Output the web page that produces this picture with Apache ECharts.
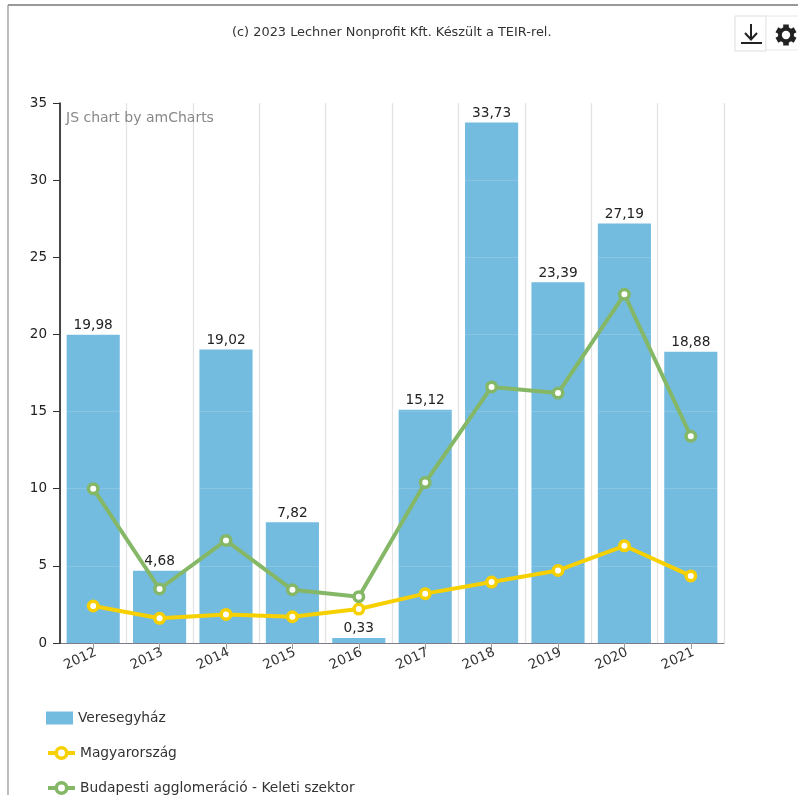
<!DOCTYPE html>
<html><head><meta charset="utf-8">
<style>html,body{margin:0;padding:0;background:#fff;overflow:hidden}#c{width:798px;height:795px}</style>
<script src="https://cdn.jsdelivr.net/npm/echarts@6/dist/echarts.min.js"></script>
</head><body><div id="c"></div>
<script>
const years = ['2012','2013','2014','2015','2016','2017','2018','2019','2020','2021'];
const veresegyhaz = [19.98,4.68,19.02,7.82,0.33,15.12,33.73,23.39,27.19,18.88];
const magyarorszag = [2.4,1.6,1.85,1.7,2.2,3.2,3.95,4.7,6.3,4.35];
const keleti = [10,3.5,6.65,3.45,3.0,10.4,16.6,16.2,22.6,13.4];
const titleText = '(c) 2023 Lechner Nonprofit Kft. Készült a TEIR-rel.';
const FONT = 'DejaVu Sans';
const YELLOW = '#f6d000', GREEN = '#85b866';
const chart = echarts.init(document.getElementById('c'), null, {renderer:'canvas'});
const lineSeries = (name, data, color) => ({
  name, type:'line', data, z:4, symbol:'circle', symbolSize:9.5, showSymbol:true,
  lineStyle:{color, width:4}, itemStyle:{color:'#fff', borderColor:color, borderWidth:3.5}
});
const legendFor = (item, top) => ({orient:'vertical',left:46,top,itemWidth:27,itemHeight:13,
  textStyle:{color:'#333',fontFamily:FONT,fontSize:13.8},
  padding:0,selectedMode:false,data:[item]});
const legendLine = (name, color) => ({name,
  itemStyle:{color:'#fff',borderColor:color,borderWidth:3.5},
  lineStyle:{color,width:4}});
const gearTooth = a => ({type:'rect',shape:{x:-2.8,y:-10.5,width:5.6,height:21},
  x:786,y:35,rotation:a*Math.PI/180,style:{fill:'#222'}});
chart.setOption({
  animation:false,
  grid:{left:60,right:74,top:103,bottom:152},
  xAxis:{type:'category',data:years,
    axisLine:{lineStyle:{color:'#667',width:1}},
    axisTick:{show:true,alignWithLabel:true,length:6,lineStyle:{color:'#999'}},
    axisLabel:{rotate:25,color:'#333',fontFamily:FONT,fontSize:13.5,margin:10,padding:[0,-3,0,0]},
    splitLine:{show:true,lineStyle:{color:'#e3e3e3',width:1.3}}},
  yAxis:{type:'value',min:0,max:35,interval:5,z:3,
    axisLine:{show:true,lineStyle:{color:'#111',width:1.5}},
    axisTick:{show:true,length:7,lineStyle:{color:'#333'}},
    axisLabel:{color:'#222',fontFamily:FONT,fontSize:13.5,margin:13,padding:[2,0,0,0]},
    splitLine:{show:true,lineStyle:{color:'rgba(255,255,255,0.15)',width:1}}},
  legend:[legendFor({name:'Veresegyház',icon:'rect'},711),
    legendFor(legendLine('Magyarország',YELLOW),746),
    legendFor(legendLine('Budapesti agglomeráció - Keleti szektor',GREEN),781)],
  series:[
    {name:'Veresegyház',type:'bar',data:veresegyhaz,barWidth:'80%',z:2,
      itemStyle:{color:'#73bbdf'},
      label:{show:true,position:'top',distance:2,color:'#222',fontFamily:FONT,fontSize:13.7,
        formatter:p=>p.value.toFixed(2).replace('.',',')}},
    lineSeries('Magyarország',magyarorszag,YELLOW),
    lineSeries('Budapesti agglomeráció - Keleti szektor',keleti,GREEN)
  ],
  graphic:[
    {type:'line',shape:{x1:8,y1:5,x2:798,y2:5},style:{stroke:'#777',lineWidth:1.3}},
    {type:'line',shape:{x1:8,y1:5,x2:8,y2:795},style:{stroke:'#999',lineWidth:1.3}},
    {type:'text',x:232,y:26,style:{text:titleText,fontFamily:FONT,fontSize:12.9,fill:'#333'}},
    {type:'text',x:66,y:111,z:10,style:{text:'JS chart by amCharts',fontFamily:FONT,fontSize:14,fill:'#888'}},
    {type:'rect',shape:{x:735,y:16,width:31,height:35},style:{fill:'#fff',stroke:'#ddd'}},
    {type:'rect',shape:{x:766,y:16,width:34,height:34},style:{fill:'#fff',stroke:'#e8e8e8'}},
    {type:'line',shape:{x1:751,y1:24,x2:751,y2:39},style:{stroke:'#222',lineWidth:2}},
    {type:'polyline',shape:{points:[[745,33],[751,39.5],[757,33]]},style:{stroke:'#222',fill:'none',lineWidth:2}},
    {type:'rect',shape:{x:741,y:42,width:21,height:2},style:{fill:'#222'}},
    gearTooth(0),gearTooth(60),gearTooth(120),
    {type:'circle',shape:{cx:786,cy:35,r:8},style:{fill:'#222'}},
    {type:'circle',shape:{cx:786,cy:35,r:4.2},style:{fill:'#fff'}}
  ]
});
</script></body></html>
